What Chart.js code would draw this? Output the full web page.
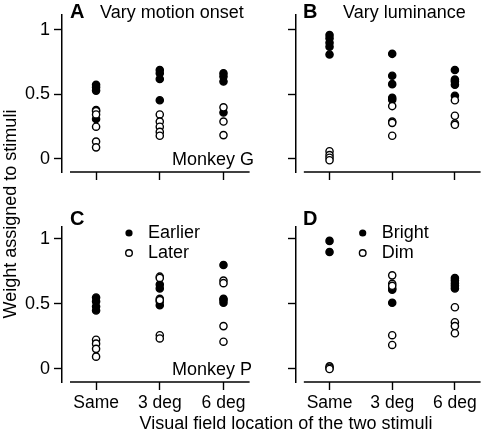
<!DOCTYPE html>
<html>
<head>
<meta charset="utf-8">
<script src="https://cdn.jsdelivr.net/npm/chart.js@4.4.0/dist/chart.umd.min.js"></script>
<style>
  body { margin: 0; background: #fff; }
  #fig { position: relative; width: 486px; height: 436px; overflow: hidden; font-family: "Liberation Sans", Arial, sans-serif; }
  canvas { position: absolute; }
  .lab { position: absolute; font-size: 18px; line-height: 20px; color: #000; white-space: nowrap; text-align: center; }
  #ytitle { width: 300px; left: -140px; top: 204px; transform: rotate(-90deg); }
  #xtitle { width: 400px; left: 86px; top: 413px; }
</style>
</head>
<body>
<div id="fig">
  <canvas id="cA" width="255" height="200" style="left:0;top:0"></canvas>
  <canvas id="cB" width="236" height="200" style="left:250px;top:0"></canvas>
  <canvas id="cC" width="255" height="236" style="left:0;top:200px"></canvas>
  <canvas id="cD" width="236" height="236" style="left:250px;top:200px"></canvas>
  <div class="lab" id="ytitle">Weight assigned to stimuli</div>
  <div class="lab" id="xtitle">Visual field location of the two stimuli</div>
</div>
<script>
// categories and ticks
const categories = ["Same", "3 deg", "6 deg"];
const yTicks = [0, 0.5, 1];
const yTickLabels = ["0", "0.5", "1"];

// one sub-array per category (Same, 3 deg, 6 deg)
// A: vary motion onset, monkey G
const motionG_earlier = [[0.575, 0.555, 0.53, 0.38, 0.31], [0.69, 0.665, 0.62, 0.455], [0.665, 0.64, 0.6, 0.36]];
const motionG_later   = [[0.37, 0.345, 0.25, 0.135, 0.09], [0.345, 0.29, 0.25, 0.21, 0.18], [0.4, 0.29, 0.185]];
// B: vary luminance, monkey G
const lumG_bright = [[0.96, 0.935, 0.9, 0.87, 0.81], [0.815, 0.645, 0.58, 0.475, 0.46], [0.69, 0.615, 0.6, 0.575, 0.49]];
const lumG_dim    = [[0.06, 0.03, 0.01, -0.01], [0.41, 0.29, 0.28, 0.18], [0.455, 0.335, 0.275, 0.265]];
// C: vary motion onset, monkey P
const motionP_earlier = [[0.55, 0.52, 0.48, 0.45], [0.65, 0.62, 0.52, 0.49], [0.8, 0.54, 0.53, 0.51]];
const motionP_later   = [[0.225, 0.195, 0.155, 0.095], [0.71, 0.7, 0.54, 0.53, 0.26, 0.235], [0.68, 0.66, 0.33, 0.21]];
// D: vary luminance, monkey P
const lumP_bright = [[0.985, 0.9], [0.62, 0.61, 0.51], [0.7, 0.68, 0.66, 0.64, 0.62]];
const lumP_dim    = [[0.02, 0.01, 0.0], [0.72, 0.655, 0.64, 0.26, 0.185], [0.475, 0.36, 0.33, 0.275]];

const FONT = '"Liberation Sans", Arial, sans-serif';

function toPoints(cols) {
  const pts = [];
  cols.forEach((col, i) => col.forEach(v => pts.push({ x: i, y: v })));
  return pts;
}

// x axis line (offset from the y axis), panel labels, legends
const decor = {
  id: "decor",
  afterDraw(chart, args, opts) {
    const ctx = chart.ctx;
    const area = chart.chartArea;
    const xs = chart.scales.x;
    ctx.save();
    ctx.strokeStyle = "#000";
    ctx.lineWidth = 1.5;
    ctx.beginPath();
    ctx.moveTo(xs.getPixelForValue(-0.41), area.bottom);
    ctx.lineTo(area.right, area.bottom);
    ctx.stroke();

    ctx.fillStyle = "#000";
    ctx.textBaseline = "alphabetic";
    (opts.texts || []).forEach(t => {
      ctx.font = (t.bold ? "bold 20px " : "18px ") + FONT;
      ctx.fillText(t.text, t.x, t.y);
    });

    ctx.textBaseline = "middle";
    ctx.font = "18px " + FONT;
    (opts.legend || []).forEach(l => {
      ctx.beginPath();
      ctx.arc(l.x, l.y, l.filled ? 3.6 : 3.3, 0, Math.PI * 2);
      if (l.filled) { ctx.fill(); } else { ctx.fillStyle = "#fff"; ctx.fill(); ctx.fillStyle = "#000"; ctx.lineWidth = 1.4; ctx.stroke(); }
      ctx.fillText(l.text, l.x + 19, l.y);
    });
    ctx.restore();
  }
};

function makePanel(id, p) {
  new Chart(document.getElementById(id), {
    type: "scatter",
    data: {
      datasets: [
        { data: toPoints(p.hollow), backgroundColor: "#fff", borderColor: "#000", borderWidth: 1.4, pointRadius: 3.6 },
        { data: toPoints(p.filled), backgroundColor: "#000", borderColor: "#000", borderWidth: 1.4, pointRadius: 3.6 }
      ]
    },
    options: {
      responsive: false,
      animation: false,
      devicePixelRatio: 1,
      layout: { padding: { left: 0, top: p.top, right: p.right, bottom: 0 } },
      plugins: { legend: { display: false }, tooltip: { enabled: false }, decor: { texts: p.texts, legend: p.legend } },
      scales: {
        x: {
          type: "linear", min: -0.535, max: 2.41,
          afterBuildTicks: s => { s.ticks = categories.map((c, i) => ({ value: i })); },
          afterFit: s => { s.height = p.xH; },
          ticks: { display: p.showX, callback: (v, i) => categories[i], color: "#000", font: { size: 17.5, family: FONT }, padding: 3, maxRotation: 0, autoSkip: false },
          grid: { drawOnChartArea: false, drawTicks: true, tickLength: 8, tickColor: "#000", tickWidth: 1.4 },
          border: { display: false }
        },
        y: {
          type: "linear", min: p.yMin, max: p.yMax,
          afterBuildTicks: s => { s.ticks = yTicks.map(v => ({ value: v })); },
          afterFit: s => { s.width = p.yW; },
          ticks: { display: p.showY, callback: (v, i) => yTickLabels[i], color: "#000", font: { size: 18, family: FONT }, padding: 4 },
          grid: { drawOnChartArea: false, drawTicks: true, tickLength: 8, tickColor: "#000", tickWidth: 1.4 },
          border: { display: true, color: "#000", width: 1.5 }
        }
      }
    },
    plugins: [decor]
  });
}

makePanel("cA", {
  filled: motionG_earlier, hollow: motionG_later,
  top: 15, right: 3, yW: 62, xH: 28, yMin: -0.101, yMax: 1.116, showX: false, showY: true,
  texts: [{ text: "A", x: 70, y: 18, bold: true }, { text: "Vary motion onset", x: 100, y: 17.5 }, { text: "Monkey G", x: 172, y: 165 }]
});
makePanel("cB", {
  filled: lumG_bright, hollow: lumG_dim,
  top: 15, right: 0, yW: 46, xH: 28, yMin: -0.101, yMax: 1.116, showX: false, showY: false,
  texts: [{ text: "B", x: 53, y: 18, bold: true }, { text: "Vary luminance", x: 93, y: 17.5 }]
});
makePanel("cC", {
  filled: motionP_earlier, hollow: motionP_later,
  top: 27, right: 3, yW: 62, xH: 54, yMin: -0.1, yMax: 1.092, showX: true, showY: true,
  texts: [{ text: "C", x: 70, y: 24.5, bold: true }, { text: "Monkey P", x: 172, y: 175 }],
  legend: [{ filled: true, x: 129, y: 33, text: "Earlier" }, { filled: false, x: 129, y: 53, text: "Later" }]
});
makePanel("cD", {
  filled: lumP_bright, hollow: lumP_dim,
  top: 27, right: 0, yW: 46, xH: 54, yMin: -0.1, yMax: 1.092, showX: true, showY: false,
  texts: [{ text: "D", x: 53, y: 24.5, bold: true }],
  legend: [{ filled: true, x: 112.7, y: 33, text: "Bright" }, { filled: false, x: 112.7, y: 53, text: "Dim" }]
});
</script>
</body>
</html>
